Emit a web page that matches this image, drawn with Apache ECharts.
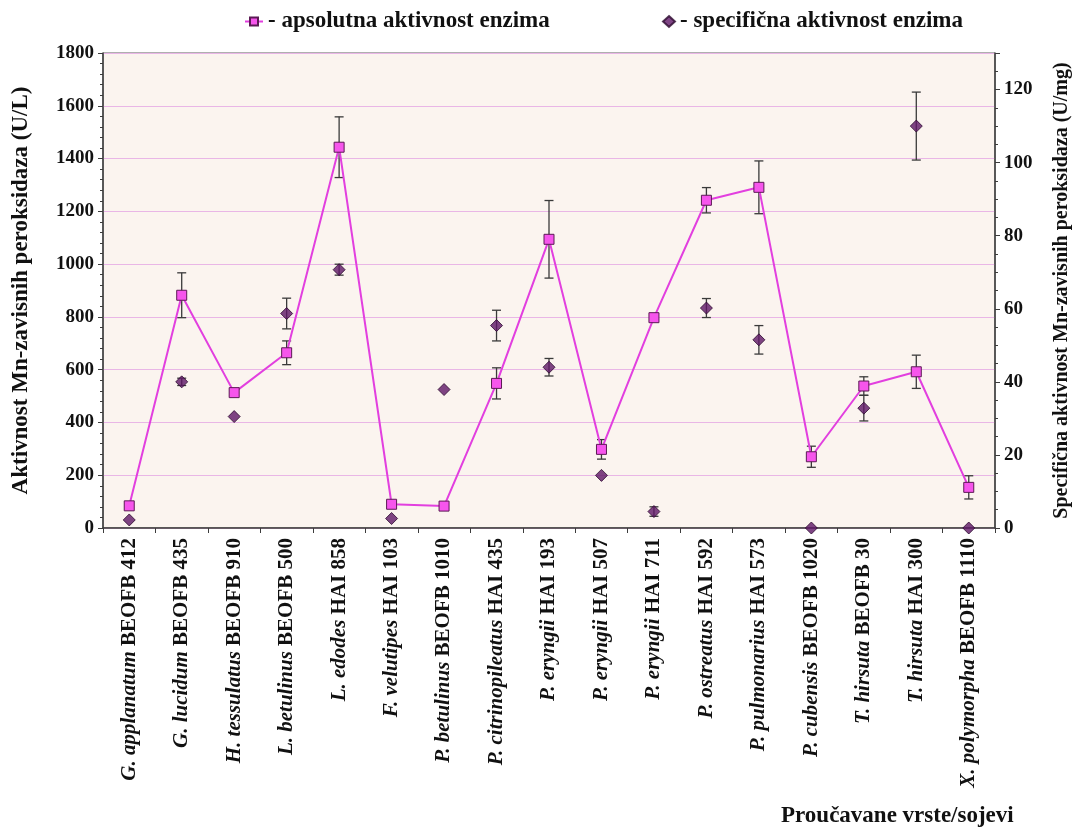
<!DOCTYPE html>
<html>
<head>
<meta charset="utf-8">
<script src="https://cdn.jsdelivr.net/npm/echarts@6/dist/echarts.min.js"></script>
<style>
  html, body { margin: 0; padding: 0; background: #ffffff; }
  #chart { width: 1074px; height: 830px; }
</style>
</head>
<body>
<div id="chart"></div>
<script>
// Species (italic) and strain codes
const species = ['G. applanatum', 'G. lucidum', 'H. tessulatus', 'L. betulinus', 'L. edodes',
  'F. velutipes', 'P. betulinus', 'P. citrinopileatus', 'P. eryngii', 'P. eryngii', 'P. eryngii',
  'P. ostreatus', 'P. pulmonarius', 'P. cubensis', 'T. hirsuta', 'T. hirsuta', 'X. polymorpha'];
const strains = ['BEOFB 412', 'BEOFB 435', 'BEOFB 910', 'BEOFB 500', 'HAI 858',
  'HAI 103', 'BEOFB 1010', 'HAI 435', 'HAI 193', 'HAI 507', 'HAI 711',
  'HAI 592', 'HAI 573', 'BEOFB 1020', 'BEOFB 30', 'HAI 300', 'BEOFB 1110'];

// Absolute Mn-peroxidase activity (U/L) and its standard deviation
const absolute = [84, 882, 513, 664, 1443, 90, 83, 548, 1094, 298, 797, 1242, 1291, 270, 538, 592, 154];
const absoluteErr = [0, 85, 0, 45, 115, 0, 0, 59, 147, 37, 0, 48, 100, 40, 35, 63, 44];

// Specific activity (U/mg) and its standard deviation
const specific = [2.2, 40.0, 30.5, 58.7, 70.7, 2.6, 37.9, 55.4, 44.0, 14.4, 4.5, 60.2, 51.5, 0, 32.8, 110.0, 0];
const specificErr = [0, 1, 0, 4.2, 1.5, 0, 0, 4.2, 2.4, 0, 1.3, 2.6, 3.9, 0, 3.5, 9.3, 0];

const leftTicks = { min: 0, max: 1800, interval: 200 };
const rightTicks = { min: 0, max: 130, interval: 20 };

const categories = species.map((s, i) => s + ' ' + strains[i]);
const FONT = '"Liberation Serif", "Times New Roman", serif';
const AXIS_COLOR = '#3c3c3c';

function errorBars(values, errs, yAxisIndex, z) {
  const data = [];
  values.forEach((v, i) => { if (errs[i] > 0) data.push([i, v - errs[i], v + errs[i]]); });
  return {
    type: 'custom',
    yAxisIndex: yAxisIndex,
    z: z,
    silent: true,
    encode: { x: 0, y: [1, 2] },
    data: data,
    renderItem: function (params, api) {
      const x = api.value(0);
      const lo = api.coord([x, api.value(1)]);
      const hi = api.coord([x, api.value(2)]);
      const w = 4.5;
      const style = { stroke: '#3a3a3a', lineWidth: 1.3 };
      return {
        type: 'group',
        children: [
          { type: 'line', shape: { x1: lo[0], y1: lo[1], x2: hi[0], y2: hi[1] }, style: style },
          { type: 'line', shape: { x1: lo[0] - w, y1: lo[1], x2: lo[0] + w, y2: lo[1] }, style: style },
          { type: 'line', shape: { x1: hi[0] - w, y1: hi[1], x2: hi[0] + w, y2: hi[1] }, style: style }
        ]
      };
    }
  };
}

const chart = echarts.init(document.getElementById('chart'), null, { renderer: 'canvas' });

const legendText = { fontFamily: FONT, fontWeight: 'bold', fontSize: 23, color: '#111' };
const plainNumber = v => String(v);

chart.setOption({
  animation: false,
  backgroundColor: '#ffffff',
  title: {
    text: 'Proučavane vrste/sojevi',
    left: 781,
    top: 805,
    padding: 0,
    textStyle: { fontFamily: FONT, fontWeight: 'bold', fontSize: 23, color: '#111' }
  },
  legend: [
    {
      data: ['apsolutna aktivnost enzima'],
      left: 244, top: 10, padding: 0,
      itemWidth: 18, itemHeight: 10,
      formatter: '- {name}',
      textStyle: legendText
    },
    {
      data: ['specifična aktivnost enzima'],
      left: 662, top: 10, padding: 0,
      itemWidth: 12, itemHeight: 11,
      formatter: '- {name}',
      textStyle: legendText
    }
  ],
  grid: {
    left: 103, right: 79, top: 53, bottom: 302,
    outerBoundsMode: 'none',
    containLabel: false,
    show: true,
    backgroundColor: '#fbf4ef',
    borderColor: '#5e5e5e',
    borderWidth: 1
  },
  xAxis: {
    type: 'category',
    data: categories,
    boundaryGap: true,
    axisLine: { lineStyle: { color: AXIS_COLOR, width: 1.5 } },
    axisTick: { show: true, length: 5, lineStyle: { color: AXIS_COLOR } },
    axisLabel: {
      interval: 0,
      rotate: 90,
      margin: 10,
      formatter: function (value, index) {
        return '{i|' + species[index] + '}{n| ' + strains[index] + '}';
      },
      rich: {
        i: { fontFamily: FONT, fontStyle: 'italic', fontWeight: 'bold', fontSize: 21, color: '#111' },
        n: { fontFamily: FONT, fontWeight: 'bold', fontSize: 21, color: '#111' }
      }
    }
  },
  yAxis: [
    {
      type: 'value',
      min: leftTicks.min, max: leftTicks.max, interval: leftTicks.interval,
      name: 'Aktivnost Mn-zavisnih peroksidaza (U/L)',
      nameLocation: 'middle',
      nameRotate: 90,
      nameGap: 70,
      nameTextStyle: { fontFamily: FONT, fontWeight: 'bold', fontSize: 23, color: '#111' },
      axisLine: { show: true, lineStyle: { color: AXIS_COLOR, width: 1.5 } },
      axisTick: { show: true, length: 5, lineStyle: { color: AXIS_COLOR } },
      minorTick: { show: true, splitNumber: 5, length: 3, lineStyle: { color: AXIS_COLOR } },
      axisLabel: { margin: 9, formatter: plainNumber, fontFamily: FONT, fontWeight: 'bold', fontSize: 19, color: '#111' },
      splitLine: { show: true, lineStyle: { color: '#e9b6e6', width: 1.2 } }
    },
    {
      type: 'value',
      position: 'right',
      min: rightTicks.min, max: rightTicks.max, interval: rightTicks.interval,
      name: 'Specifična aktivnost Mn-zavisnih peroksidaza (U/mg)',
      nameLocation: 'middle',
      nameRotate: 90,
      nameGap: 57,
      nameTextStyle: { fontFamily: FONT, fontWeight: 'bold', fontSize: 20, color: '#111' },
      axisLine: { show: true, lineStyle: { color: AXIS_COLOR, width: 1.5 } },
      axisTick: { show: true, length: 5, lineStyle: { color: AXIS_COLOR } },
      minorTick: { show: true, splitNumber: 4, length: 3, lineStyle: { color: AXIS_COLOR } },
      axisLabel: { margin: 9, showMaxLabel: false, formatter: plainNumber, fontFamily: FONT, fontWeight: 'bold', fontSize: 19, color: '#111' },
      splitLine: { show: false }
    }
  ],
  series: [
    errorBars(absolute, absoluteErr, 0, 2),
    errorBars(specific, specificErr, 1, 2),
    {
      name: 'specifična aktivnost enzima',
      type: 'scatter',
      yAxisIndex: 1,
      data: specific,
      symbol: 'diamond',
      symbolSize: [12, 12],
      z: 4,
      itemStyle: { color: '#5f1766', borderColor: '#2c0a2e', borderWidth: 1 }
    },
    {
      name: 'apsolutna aktivnost enzima',
      type: 'line',
      yAxisIndex: 0,
      data: absolute,
      symbol: 'rect',
      symbolSize: 10,
      showAllSymbol: true,
      z: 5,
      lineStyle: { color: '#e23fdf', width: 2 },
      itemStyle: { color: '#f655ec', borderColor: '#5c1a55', borderWidth: 1 }
    }
  ]
});
</script>
</body>
</html>
